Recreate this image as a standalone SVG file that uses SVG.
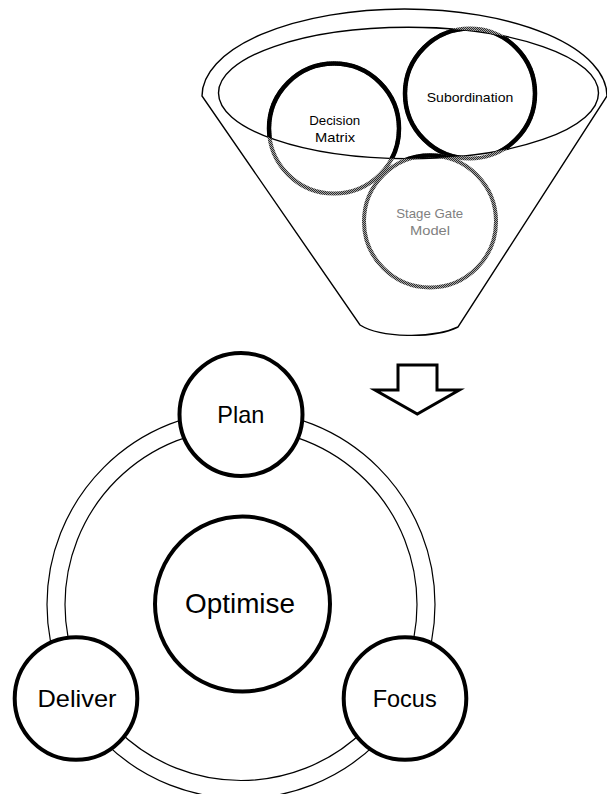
<svg xmlns="http://www.w3.org/2000/svg" width="607" height="794" viewBox="0 0 607 794">
  <style>
    .thin { fill: none; stroke: #000; stroke-width: 1.4; }
    .ring { fill: none; stroke: #000; stroke-width: 1.2; }
    .node { fill: #fff; stroke: #000; stroke-width: 4; }
    .fcirc { fill: none; stroke: url(#dither); stroke-width: 4; }
    .fcircb { fill: none; stroke: #000; stroke-width: 4.5; }
    .small { font-family: "Liberation Sans", Arial, sans-serif; font-size: 13.5px; text-anchor: middle; fill: #000; }
    .big { font-family: "Liberation Sans", Arial, sans-serif; font-size: 24px; text-anchor: middle; fill: #000; }
  </style>
  <defs>
    <pattern id="dither" width="2" height="2" patternUnits="userSpaceOnUse">
      <rect width="2" height="2" fill="#a8a8a8"/>
      <rect width="1" height="1" fill="#2e2e2e"/>
      <rect x="1" y="1" width="1" height="1" fill="#2e2e2e"/>
    </pattern>
    <clipPath id="inside">
      <ellipse cx="408.5" cy="93" rx="190" ry="65.7"/>
    </clipPath>
  </defs>
  <rect width="607" height="794" fill="#fff"/>

  <g id="funnel">
    <path class="thin" fill="#fff" d="M202,96 A202.5,87 0 0 1 607,96 L458,327 A58,20 0 0 1 360,325 Z"/>
    <ellipse class="thin" cx="408.5" cy="93" rx="190" ry="65.7"/>
  </g>

  <g id="decision-matrix">
    <circle class="fcirc" cx="334" cy="128.5" r="65"/>
    <circle class="fcircb" cx="334" cy="128.5" r="65" clip-path="url(#inside)"/>
    <text class="small" x="334.7" y="125" textLength="51" lengthAdjust="spacingAndGlyphs">Decision</text>
    <text class="small" x="335" y="141.7" textLength="40" lengthAdjust="spacingAndGlyphs">Matrix</text>
  </g>

  <g id="subordination">
    <circle class="fcirc" cx="470" cy="93.5" r="65"/>
    <circle class="fcircb" cx="470" cy="93.5" r="65" clip-path="url(#inside)"/>
    <text class="small" x="470" y="101.7" textLength="86.5" lengthAdjust="spacingAndGlyphs">Subordination</text>
  </g>

  <g id="stage-gate-model">
    <circle class="fcirc" cx="430" cy="221.5" r="66"/>
    <circle class="fcircb" cx="430" cy="221.5" r="66" clip-path="url(#inside)"/>
    <text class="small" x="429.7" y="218.3" style="fill:#7f7f7f" textLength="67" lengthAdjust="spacingAndGlyphs">Stage Gate</text>
    <text class="small" x="430" y="234.5" style="fill:#7f7f7f" textLength="40" lengthAdjust="spacingAndGlyphs">Model</text>
  </g>

  <g id="connectors">
    <path id="arrow" d="M398,365 L437,365 L437,390 L459.3,390 L417.3,414 L375,390 L398,390 Z" fill="#fff" stroke="#000" stroke-width="3" stroke-linejoin="miter"/>
    <circle class="ring" cx="241" cy="604.5" r="194"/>
    <circle class="ring" cx="241" cy="604.5" r="176"/>
  </g>

  <g id="optimise">
    <circle class="node" cx="242.5" cy="604" r="87.5"/>
    <text class="big" x="240" y="613.3" style="font-size:27.5px" textLength="110" lengthAdjust="spacingAndGlyphs">Optimise</text>
  </g>

  <g id="plan">
    <circle class="node" cx="241" cy="414.5" r="61.5"/>
    <text class="big" x="240.8" y="423.3" textLength="47" lengthAdjust="spacingAndGlyphs">Plan</text>
  </g>

  <g id="deliver">
    <circle class="node" cx="76" cy="698.5" r="61.3"/>
    <text class="big" x="77" y="706.7" textLength="79" lengthAdjust="spacingAndGlyphs">Deliver</text>
  </g>

  <g id="focus">
    <circle class="node" cx="405" cy="698.5" r="61.3"/>
    <text class="big" x="404.7" y="706.7" textLength="64" lengthAdjust="spacingAndGlyphs">Focus</text>
  </g>
</svg>
